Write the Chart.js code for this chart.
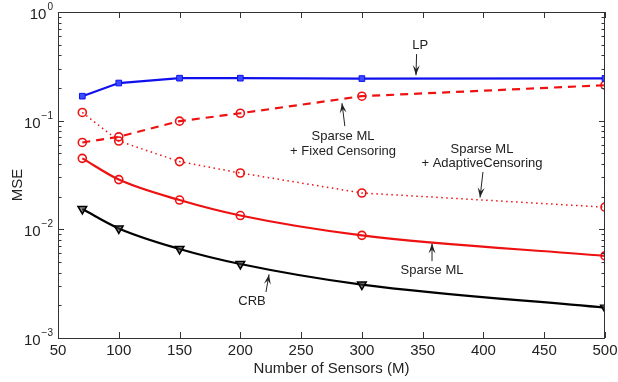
<!DOCTYPE html>
<html>
<head>
<meta charset="utf-8">
<script src="https://cdn.jsdelivr.net/npm/chart.js@4"></script>
<style>
  html, body { margin: 0; padding: 0; background: #fff; }
  #wrap { width: 618px; height: 382px; }
</style>
</head>
<body>
<div id="wrap"><canvas id="chart"></canvas></div>
<script>
// data
const sensors = [70, 100, 150, 200, 300, 500];
const lpMse = [0.168, 0.222, 0.246, 0.246, 0.244, 0.245];
const fixedMse = [0.063, 0.071, 0.099, 0.117, 0.168, 0.212];
const adaptiveMse = [0.119, 0.065, 0.042, 0.033, 0.0216, 0.016];
const sparseMse = [0.045, 0.0287, 0.0186, 0.0134, 0.0088, 0.0057];
const crbMse = [0.0154, 0.0102, 0.0066, 0.0048, 0.0031, 0.0019];
const xTicks = [50, 100, 150, 200, 250, 300, 350, 400, 450, 500];
const yDecades = [0, -1, -2, -3];

// text + arrows, in data units
const notes = [
  { lines: ['LP'], x: 348, y: [0.497], from: [345, 0.41], to: [344.5, 0.262] },
  { lines: ['Sparse ML', '+ Fixed Censoring'], x: 284.5, y: [0.0723, 0.0526], from: [286, 0.089], to: [283.6, 0.145] },
  { lines: ['Sparse ML', '+ AdaptiveCensoring'], x: 398.8, y: [0.0538, 0.040], from: [399.6, 0.0337], to: [397.2, 0.0196] },
  { lines: ['Sparse ML'], x: 357.7, y: [0.00423], from: [357.7, 0.0051], to: [357.7, 0.0074] },
  { lines: ['CRB'], x: 209.6, y: [0.00215], from: [221.1, 0.00265], to: [223.6, 0.00385] }
];

const pts = (ys) => sensors.map((x, i) => ({ x: x, y: ys[i] }));
const FONT = '"Liberation Sans", Arial, sans-serif';

function arrow(c, x1, y1, x2, y2) {
  c.beginPath();
  c.moveTo(x1, y1);
  c.lineTo(x2, y2);
  c.stroke();
  const a = Math.atan2(y2 - y1, x2 - x1);
  const len = 10, w = 3.5;
  c.beginPath();
  c.moveTo(x2, y2);
  c.lineTo(x2 - len * Math.cos(a) + w * Math.sin(a), y2 - len * Math.sin(a) - w * Math.cos(a));
  c.lineTo(x2 - len * 0.6 * Math.cos(a), y2 - len * 0.6 * Math.sin(a));
  c.lineTo(x2 - len * Math.cos(a) - w * Math.sin(a), y2 - len * Math.sin(a) + w * Math.cos(a));
  c.closePath();
  c.fill();
}

const axesPlugin = {
  id: 'matlabAxes',
  afterDatasetsDraw(chart) {
    const c = chart.ctx;
    const xs = chart.scales.x, ys = chart.scales.y;
    const a = chart.chartArea;
    c.save();
    c.strokeStyle = '#333';
    c.lineWidth = 1;
    c.strokeRect(a.left + 0.5, a.top + 0.5, a.right - a.left - 1, a.bottom - a.top);
    c.beginPath();
    // x ticks, inside, top and bottom
    xTicks.forEach(v => {
      const px = Math.round(xs.getPixelForValue(v)) + 0.5;
      c.moveTo(px, a.bottom); c.lineTo(px, a.bottom - 6);
      c.moveTo(px, a.top); c.lineTo(px, a.top + 6);
    });
    // y ticks, major and minor
    yDecades.forEach(d => {
      for (let m = 1; m <= 9; m++) {
        const v = m * Math.pow(10, d - 1);
        if (v < 0.001 - 1e-12 || v > 1) continue;
        const py = Math.round(ys.getPixelForValue(v)) + 0.5;
        const l = m === 1 ? 6 : 3.5;
        c.moveTo(a.left, py); c.lineTo(a.left + l, py);
        c.moveTo(a.right, py); c.lineTo(a.right - l, py);
      }
    });
    c.moveTo(a.left, ys.getPixelForValue(1) + 0.5); c.lineTo(a.left + 6, ys.getPixelForValue(1) + 0.5);
    c.stroke();

    // tick labels
    c.fillStyle = '#222';
    c.font = '15px ' + FONT;
    c.textAlign = 'center';
    c.textBaseline = 'top';
    xTicks.forEach(v => c.fillText(String(v), xs.getPixelForValue(v), a.bottom + 5));
    yDecades.forEach(d => {
      const py = ys.getPixelForValue(Math.pow(10, d));
      const exp = String(d).replace('-', '\u2212');
      c.font = '10px ' + FONT;
      const ew = c.measureText(exp).width;
      c.textAlign = 'right';
      c.textBaseline = 'alphabetic';
      c.fillText(exp, a.left - 5, py - 2);
      c.font = '15px ' + FONT;
      c.fillText('10', a.left - 5 - ew - 1, py + 7);
    });

    // axis titles
    c.font = '15px ' + FONT;
    c.textAlign = 'center';
    c.textBaseline = 'top';
    c.fillText('Number of Sensors (M)', (a.left + a.right) / 2, a.bottom + 23);
    c.save();
    c.translate(18, (a.top + a.bottom) / 2 + 10);
    c.rotate(-Math.PI / 2);
    c.textBaseline = 'middle';
    c.fillText('MSE', 0, 0);
    c.restore();

    // annotations
    c.font = '13px ' + FONT;
    c.textBaseline = 'middle';
    c.fillStyle = '#222';
    c.strokeStyle = '#222';
    notes.forEach(n => {
      n.lines.forEach((t, i) => c.fillText(t, xs.getPixelForValue(n.x), ys.getPixelForValue(n.y[i])));
      arrow(c, xs.getPixelForValue(n.from[0]), ys.getPixelForValue(n.from[1]),
        xs.getPixelForValue(n.to[0]), ys.getPixelForValue(n.to[1]));
    });
    c.restore();
  }
};

new Chart(document.getElementById('chart'), {
  type: 'line',
  data: {
    datasets: [
      {
        label: 'LP', data: pts(lpMse),
        borderColor: '#1010ee', backgroundColor: '#3a4cff', borderWidth: 2.2,
        pointStyle: 'rect', pointRadius: 4, pointBorderWidth: 1, pointBorderColor: '#1010ee'
      },
      {
        label: 'Sparse ML + Fixed Censoring', data: pts(fixedMse),
        borderColor: '#ee1111', backgroundColor: 'rgba(0,0,0,0)', borderWidth: 2.2,
        borderDash: [8, 6], pointRadius: 4, pointBorderWidth: 1.6
      },
      {
        label: 'Sparse ML + AdaptiveCensoring', data: pts(adaptiveMse),
        borderColor: '#ee1111', backgroundColor: 'rgba(0,0,0,0)', borderWidth: 1.5,
        borderDash: [1.5, 3.5], pointRadius: 4, pointBorderWidth: 1.6
      },
      {
        label: 'Sparse ML', data: pts(sparseMse),
        borderColor: '#ee1111', backgroundColor: 'rgba(0,0,0,0)', borderWidth: 2.2,
        pointRadius: 4, pointBorderWidth: 1.6, cubicInterpolationMode: 'monotone'
      },
      {
        label: 'CRB', data: pts(crbMse),
        borderColor: '#000', backgroundColor: 'rgba(60,60,60,0.6)', borderWidth: 2.2,
        pointStyle: 'triangle', rotation: 180, pointRadius: 5, pointBorderWidth: 1.5,
        cubicInterpolationMode: 'monotone'
      }
    ]
  },
  options: {
    responsive: true,
    maintainAspectRatio: false,
    animation: false,
    layout: { padding: { top: 12, right: 13, left: 0, bottom: 0 } },
    plugins: { legend: { display: false }, tooltip: { enabled: false } },
    scales: {
      x: {
        type: 'linear', min: 50, max: 500,
        grid: { display: false }, border: { display: false },
        ticks: { display: false },
        afterFit(s) { s.height = 44; }
      },
      y: {
        type: 'logarithmic', min: 0.001, max: 1,
        grid: { display: false }, border: { display: false },
        ticks: { display: false },
        afterFit(s) { s.width = 58; }
      }
    }
  },
  plugins: [axesPlugin]
});
</script>
</body>
</html>
